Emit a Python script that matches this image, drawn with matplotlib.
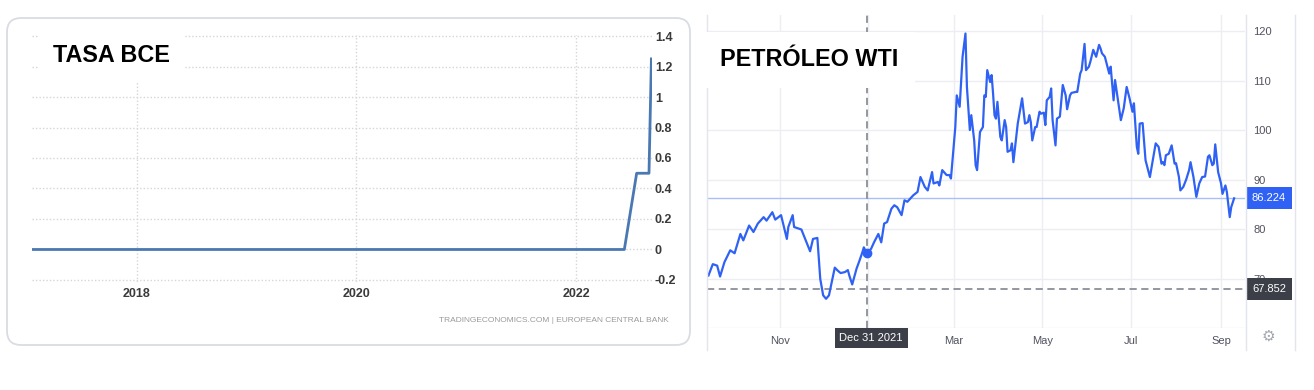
import matplotlib
matplotlib.use("Agg")
import matplotlib.pyplot as plt
import matplotlib.transforms as mtransforms
from matplotlib.patches import FancyBboxPatch
from matplotlib.lines import Line2D
import pandas as pd

W, H = 1314, 390

# --- ECB rate (left panel) ---
ecb_dates = ["2017-01-17", "2022-06-10", "2022-07-21", "2022-08-31", "2022-09-08"]
ecb_rates = [0.0, 0.0, 0.5, 0.5, 1.25]
ecb_yticks = [-0.2, 0, 0.2, 0.4, 0.6, 0.8, 1.0, 1.2, 1.4]
ecb_ylabels = ["-0.2", "0", "0.2", "0.4", "0.6", "0.8", "1", "1.2", "1.4"]
ecb_xticks = ["2018-01-01", "2020-01-01", "2022-01-01"]
ecb_xlabels = ["2018", "2020", "2022"]

# --- WTI crude (right panel) ---
wti_dates = [
    "2021-09-13", "2021-09-16", "2021-09-19", "2021-09-21", "2021-09-24", "2021-09-28",
    "2021-10-01", "2021-10-05", "2021-10-07", "2021-10-11", "2021-10-14", "2021-10-17",
    "2021-10-21", "2021-10-23", "2021-10-27", "2021-10-29", "2021-11-02", "2021-11-06",
    "2021-11-07", "2021-11-10", "2021-11-11", "2021-11-16", "2021-11-19", "2021-11-22",
    "2021-11-24", "2021-11-27", "2021-11-29", "2021-12-01", "2021-12-03", "2021-12-05",
    "2021-12-09", "2021-12-11", "2021-12-13", "2021-12-16", "2021-12-18", "2021-12-19",
    "2021-12-21", "2021-12-24", "2021-12-26", "2021-12-28", "2021-12-29", "2021-12-31",
    "2022-01-03", "2022-01-05", "2022-01-08", "2022-01-10", "2022-01-12", "2022-01-14",
    "2022-01-17", "2022-01-19", "2022-01-21", "2022-01-24", "2022-01-26", "2022-01-28",
    "2022-02-01", "2022-02-04", "2022-02-06", "2022-02-09", "2022-02-11", "2022-02-14",
    "2022-02-15", "2022-02-18", "2022-02-19", "2022-02-21", "2022-02-24", "2022-02-26",
    "2022-02-27", "2022-03-02", "2022-03-03", "2022-03-05", "2022-03-07", "2022-03-09",
    "2022-03-10", "2022-03-12", "2022-03-13", "2022-03-15", "2022-03-16", "2022-03-17",
    "2022-03-19", "2022-03-21", "2022-03-22", "2022-03-23", "2022-03-24", "2022-03-26",
    "2022-03-27", "2022-03-28", "2022-03-29", "2022-03-30", "2022-03-31", "2022-04-02",
    "2022-04-03", "2022-04-05", "2022-04-06", "2022-04-07", "2022-04-09", "2022-04-10",
    "2022-04-11", "2022-04-14", "2022-04-16", "2022-04-17", "2022-04-19", "2022-04-21",
    "2022-04-22", "2022-04-23", "2022-04-24", "2022-04-26", "2022-04-27", "2022-04-29",
    "2022-04-30", "2022-05-02", "2022-05-03", "2022-05-04", "2022-05-06", "2022-05-07",
    "2022-05-08", "2022-05-10", "2022-05-11", "2022-05-13", "2022-05-15", "2022-05-17",
    "2022-05-18", "2022-05-20", "2022-05-21", "2022-05-24", "2022-05-25", "2022-05-27",
    "2022-05-28", "2022-05-30", "2022-05-31", "2022-06-02", "2022-06-03", "2022-06-05",
    "2022-06-07", "2022-06-09", "2022-06-10", "2022-06-11", "2022-06-13", "2022-06-16",
    "2022-06-17", "2022-06-19", "2022-06-20", "2022-06-22", "2022-06-24", "2022-06-26",
    "2022-06-28", "2022-06-30", "2022-07-02", "2022-07-03", "2022-07-05", "2022-07-06",
    "2022-07-07", "2022-07-09", "2022-07-11", "2022-07-14", "2022-07-16", "2022-07-18",
    "2022-07-20", "2022-07-22", "2022-07-23", "2022-07-24", "2022-07-25", "2022-07-27",
    "2022-07-29", "2022-07-31", "2022-08-01", "2022-08-03", "2022-08-04", "2022-08-06",
    "2022-08-08", "2022-08-10", "2022-08-11", "2022-08-13", "2022-08-15", "2022-08-17",
    "2022-08-19", "2022-08-21", "2022-08-23", "2022-08-24", "2022-08-26", "2022-08-27",
    "2022-08-28", "2022-08-30", "2022-09-01", "2022-09-02", "2022-09-04", "2022-09-05",
    "2022-09-07", "2022-09-08", "2022-09-10",
]
wti_prices = [
    70.6, 72.9, 72.6, 70.4, 73.3, 75.7,
    75.1, 79.0, 77.7, 80.7, 79.4, 81.1,
    82.4, 81.7, 83.4, 81.9, 82.8, 78.0,
    80.4, 82.8, 80.4, 79.9, 77.7, 75.5,
    78.0, 78.2, 69.9, 66.6, 65.9, 66.6,
    72.2, 71.6, 71.1, 71.3, 71.7, 70.6,
    68.8, 72.0, 73.6, 75.3, 76.3, 75.1,
    76.0, 77.3, 79.0, 77.3, 81.1, 81.4,
    84.1, 84.8, 84.4, 82.8, 85.8, 85.5,
    86.8, 87.5, 90.5, 88.5, 87.8, 91.5,
    89.2, 89.5, 88.8, 91.9, 90.9, 90.9,
    90.2, 100.6, 107.0, 104.7, 114.8, 119.5,
    108.7, 100.0, 103.0, 97.9, 92.9, 91.9,
    99.6, 100.6, 107.0, 106.7, 112.1, 109.7,
    111.1, 107.4, 103.0, 102.3, 105.7, 98.6,
    97.9, 102.0, 100.6, 95.6, 95.9, 97.3,
    93.5, 101.3, 104.7, 106.4, 101.3, 101.6,
    103.0, 101.6, 97.9, 100.6, 100.6, 103.7,
    103.3, 103.5, 101.0, 106.0, 106.7, 108.4,
    102.0, 96.9, 102.3, 102.7, 109.1, 107.0,
    104.2, 107.0, 107.5, 107.7, 107.7, 111.4,
    112.1, 117.4, 112.1, 112.8, 113.8, 116.2,
    114.8, 117.2, 116.5, 115.5, 114.8, 111.4,
    112.8, 106.0, 110.1, 106.0, 102.0, 104.4,
    108.7, 106.4, 103.7, 105.4, 96.6, 95.2,
    101.3, 101.4, 93.9, 90.5, 93.9, 97.3,
    96.6, 93.2, 93.5, 92.9, 94.9, 95.2,
    96.9, 93.2, 93.3, 90.5, 87.8, 88.5,
    90.0, 91.9, 93.5, 90.5, 86.5, 89.2,
    90.5, 90.6, 94.6, 94.9, 92.9, 93.2,
    97.1, 91.5, 89.2, 87.1, 88.8, 87.5,
    82.4, 84.4, 86.2,
]
wti_yticks = [60, 70, 80, 90, 100, 110, 120]
wti_ylabels = ["", "70", "80", "90", "100", "110", "120"]
wti_xticks = ["2021-11-01", "2022-01-01", "2022-03-01", "2022-05-01", "2022-07-01", "2022-09-01"]
wti_xlabels = ["Nov", "", "Mar", "May", "Jul", "Sep"]
cursor_date = "2021-12-31"
cursor_price = 75.1
last_price = 86.224
cursor_level = 67.852

plt.rcParams["font.family"] = ["Liberation Sans", "DejaVu Sans"]

fig = plt.figure(figsize=(W / 100, H / 100), dpi=100)
# pixel coordinates measured from the top-left corner
px = mtransforms.Affine2D().scale(1 / W, -1 / H).translate(0, 1) + fig.transFigure


def px_axes(left, top, right, bottom):
    return fig.add_axes([left / W, 1 - bottom / H, (right - left) / W, (bottom - top) / H])


# ---------------- left panel ----------------
fig.patches.append(FancyBboxPatch((7, 18), 683, 327, boxstyle="round,pad=0,rounding_size=14",
                                  transform=px, fc="white", ec="#d9dce2", lw=1.3, zorder=-1))

ax1 = px_axes(32, 34.5, 652, 281.5)
ax1.set_facecolor("none")
ax1.plot(pd.to_datetime(ecb_dates), ecb_rates, color="#4a78b2", lw=2, zorder=3)
ax1.set_xlim(pd.Timestamp("2017-01-17"), pd.Timestamp("2022-09-10"))
ax1.set_ylim(-0.21, 1.41)
ax1.set_yticks(ecb_yticks)
ax1.set_yticklabels(ecb_ylabels)
ax1.set_xticks(pd.to_datetime(ecb_xticks))
ax1.set_xticklabels(ecb_xlabels)
ax1.yaxis.tick_right()
ax1.tick_params(axis="y", length=0, pad=2, labelsize=9, labelcolor="#3a3a3a")
ax1.tick_params(axis="x", length=0, pad=5, labelsize=9, labelcolor="#3a3a3a")
for lab in ax1.get_xticklabels() + ax1.get_yticklabels():
    lab.set_fontweight("bold")
ax1.grid(True, color="#d3d6da", linestyle=(0, (1, 1.5)), lw=1)
for s in ax1.spines.values():
    s.set_visible(False)

fig.text(53 / W, 1 - 56 / H, "TASA BCE", fontsize=16.8, fontweight="bold", color="black",
         ha="left", va="center",
         bbox=dict(facecolor="white", edgecolor="none", pad=11))
fig.text(669 / W, 1 - 320 / H, "TRADINGECONOMICS.COM | EUROPEAN CENTRAL BANK",
         fontsize=6, color="#9a9a9a", ha="right", va="center")

# ---------------- right panel ----------------
ax2 = px_axes(707, 15, 1245, 328)
ax2.set_facecolor("none")
dates = pd.to_datetime(wti_dates)
ax2.set_xlim(pd.Timestamp("2021-09-12"), pd.Timestamp("2022-09-17 12:00"))
ax2.set_ylim(60, 123.24)
ax2.set_yticks(wti_yticks)
ax2.set_yticklabels(wti_ylabels)
ax2.set_xticks(pd.to_datetime(wti_xticks))
ax2.set_xticklabels(wti_xlabels)
ax2.yaxis.tick_right()
ax2.tick_params(axis="y", length=0, pad=6, labelsize=8, labelcolor="#50535e")
ax2.tick_params(axis="x", length=0, pad=6, labelsize=8, labelcolor="#50535e")
ax2.grid(True, color="#eceef3", lw=1)
for s in ax2.spines.values():
    s.set_visible(False)

ax2.axhline(last_price, color="#a9bff8", lw=1, zorder=2)
dash = (0, (4, 2.5))
cursor_x = pd.Timestamp(cursor_date)
ax2.axvline(cursor_x, color="#8c8f98", ls=dash, lw=1.3, zorder=2)
ax2.axhline(cursor_level, color="#8c8f98", ls=dash, lw=1.3, zorder=2)
ax2.plot(dates, wti_prices, color="#2f62f4", lw=1.6, zorder=3)
ax2.plot([cursor_x], [cursor_price], "o", ms=6, color="#2f62f4", zorder=4)

yblend = mtransforms.blended_transform_factory(ax2.transAxes, ax2.transData)
ax2.text(1.013, last_price, f"{last_price:.3f}", transform=yblend, fontsize=8, color="white",
         ha="left", va="center", clip_on=False,
         bbox=dict(boxstyle="square,pad=0.55", fc="#2f62f4", ec="none"))
ax2.text(1.013, cursor_level, f"{cursor_level:.3f}", transform=yblend, fontsize=8, color="white",
         ha="left", va="center", clip_on=False, zorder=5,
         bbox=dict(boxstyle="square,pad=0.55", fc="#3c3f48", ec="none"))
xblend = mtransforms.blended_transform_factory(ax2.transData, ax2.transAxes)
ax2.text(cursor_x + pd.Timedelta(days=3), -0.032, "Dec 31 2021", transform=xblend, fontsize=8,
         color="white", ha="center", va="center", clip_on=False,
         bbox=dict(boxstyle="square,pad=0.42", fc="#3c3f48", ec="none"))

for xline in (707, 1246, 1295):
    fig.lines.append(Line2D([xline, xline], [15, 350], transform=px, color="#e3e5ec", lw=1))

fig.text(1268 / W, 1 - 336 / H, "\u2699", family="DejaVu Sans", fontsize=11, color="#a4a7ae",
         ha="center", va="center")

fig.text(720 / W, 1 - 60 / H, "PETRÓLEO WTI", fontsize=16.8, fontweight="bold", color="black",
         ha="left", va="center",
         bbox=dict(facecolor="white", edgecolor="none", pad=12))

fig.savefig("out.png", dpi=100)
